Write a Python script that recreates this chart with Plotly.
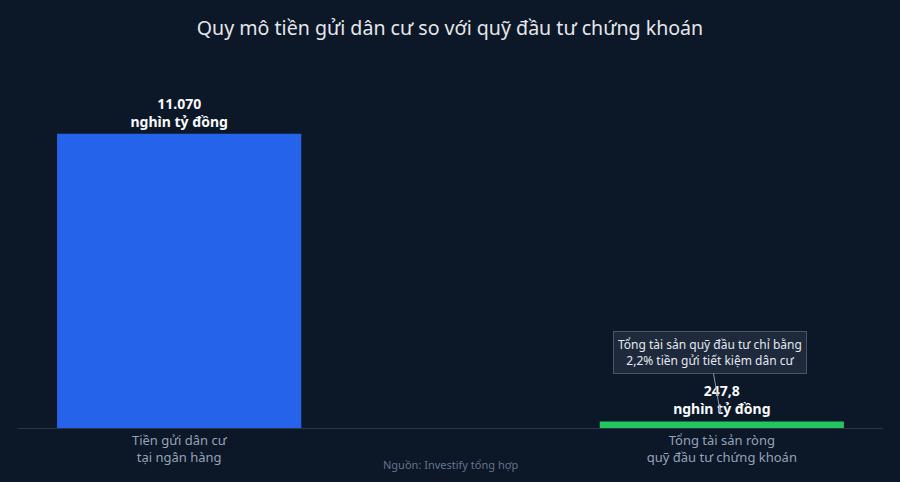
import plotly.graph_objects as go

categories = ["Tiền gửi dân cư<br>tại ngân hàng", "Tổng tài sản ròng<br>quỹ đầu tư chứng khoán"]
values = [11070, 247.8]
value_labels = ["11.070<br>nghìn tỷ đồng", "247,8<br>nghìn tỷ đồng"]
bar_colors = ["#2563eb", "#22c55e"]
note_text = "Tổng tài sản quỹ đầu tư chỉ bằng<br>2,2% tiền gửi tiết kiệm dân cư"
source_text = "Nguồn: Investify tổng hợp"

BG = "#0c1727"
FONT = "Noto Sans"

fig = go.Figure()

fig.add_trace(go.Bar(
    x=categories,
    y=values,
    width=0.45,
    marker=dict(color=bar_colors, line=dict(width=0)),
    text=value_labels,
    textposition="outside",
    textfont=dict(family=FONT, size=14, color="#f8fafc", weight="bold"),
    cliponaxis=False,
    hoverinfo="skip",
))

fig.add_annotation(
    x=categories[1], y=values[1],
    ax=-12, ay=-69,
    text=note_text,
    showarrow=True,
    arrowhead=2, arrowsize=0.8, arrowwidth=1, arrowcolor="#8b95a5",
    standoff=8,
    font=dict(family=FONT, size=12, color="#e2e8f0"),
    bgcolor="#1e293b", bordercolor="#4b5567", borderwidth=1, borderpad=4,
    align="center",
)

fig.add_annotation(
    x=0.5, y=-0.102, xref="paper", yref="paper",
    text=source_text, showarrow=False,
    font=dict(family=FONT, size=11, color="#64748b"),
    xanchor="center", yanchor="middle",
)

fig.update_layout(
    width=900, height=482,
    title=dict(text="Quy mô tiền gửi dân cư so với quỹ đầu tư chứng khoán",
               x=0.5, xanchor="center", y=0.942, yanchor="middle",
               font=dict(family=FONT, size=19.6, color="#e5e7eb")),
    paper_bgcolor=BG, plot_bgcolor=BG,
    margin=dict(l=18, r=17, t=75, b=54),
    showlegend=False,
    font=dict(family=FONT),
)

fig.update_xaxes(
    range=[-0.297, 1.297],
    showgrid=False, zeroline=False,
    showline=True, linecolor="#2a3545", linewidth=1,
    ticks="",
    tickfont=dict(family=FONT, size=13, color="#94a3b8"),
)
fig.update_yaxes(
    range=[0, 13284],
    showgrid=False, zeroline=False, showticklabels=False, showline=False,
)

fig.write_html(
    "out.html",
    config={"displayModeBar": False},
    post_script="document.body.style.margin='0';document.body.style.overflow='hidden';"
                "document.body.style.background='" + BG + "';",
)
